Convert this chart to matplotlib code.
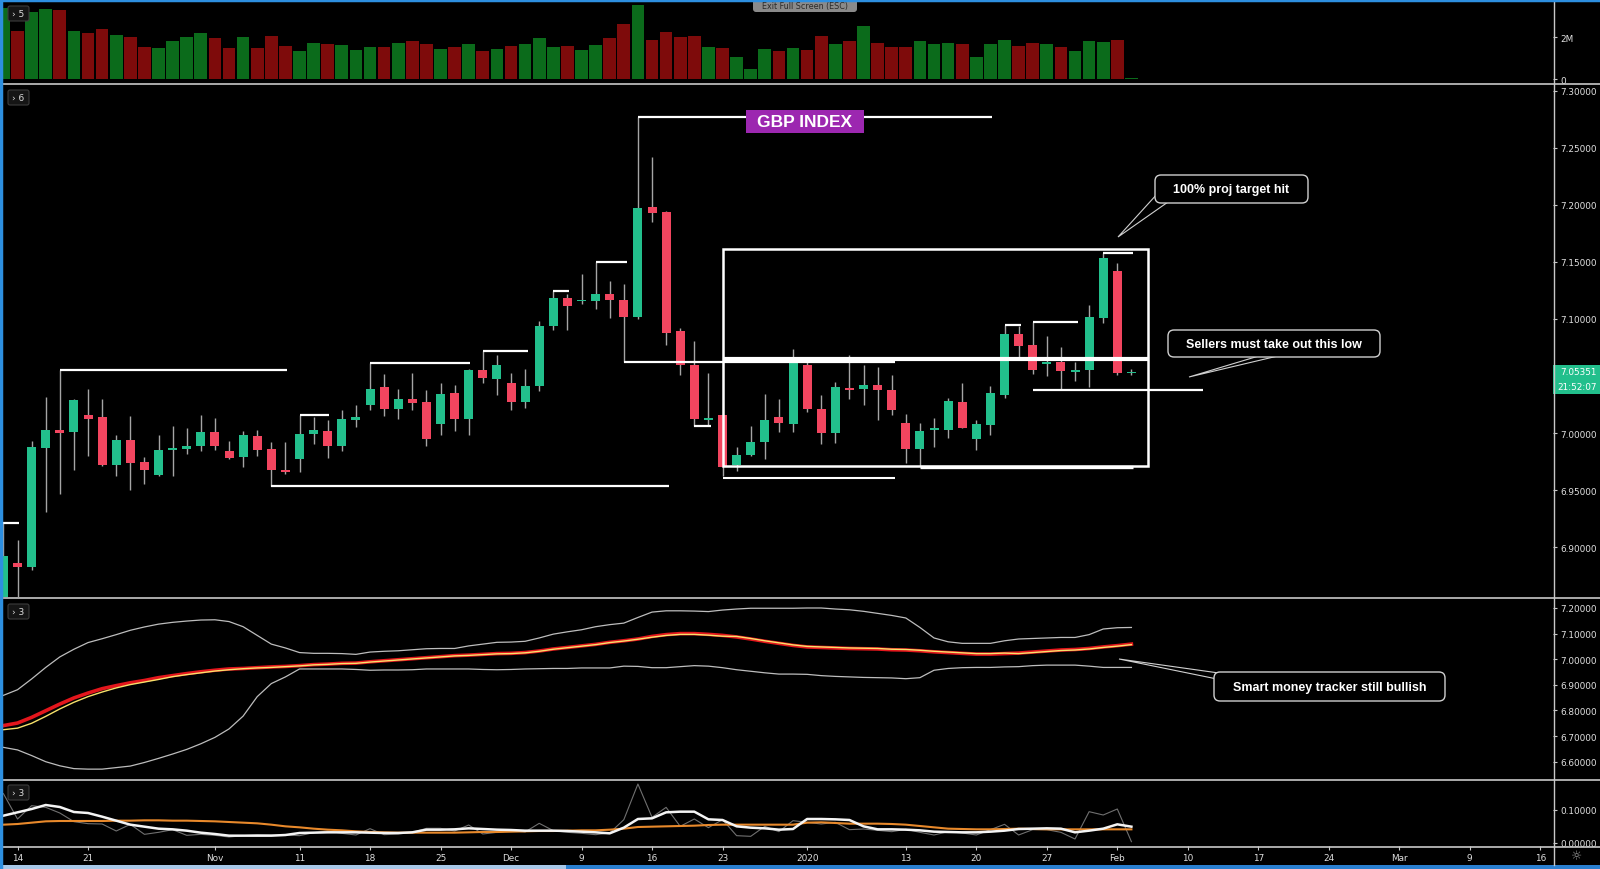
import matplotlib
matplotlib.use('Agg')
import matplotlib.pyplot as plt
from matplotlib.patches import FancyBboxPatch, Rectangle, Polygon
import numpy as np

# ---------------- data ----------------
bar_index = np.arange(-1, 80)   # trading-day index, 0 = Oct 14 2019

open_ = [6.840, 6.886, 6.883, 6.987, 7.003, 7.001, 7.016, 7.014, 6.972, 6.994,
         6.975, 6.963, 6.985, 6.986, 6.989, 7.001, 6.984, 6.979, 6.997, 6.986,
         6.968, 6.977, 6.999, 7.002, 6.989, 7.011, 7.025, 7.040, 7.021, 7.030,
         7.027, 7.008, 7.035, 7.012, 7.055, 7.047, 7.044, 7.027, 7.041, 7.094,
         7.118, 7.1155, 7.116, 7.122, 7.117, 7.102, 7.198, 7.194, 7.089, 7.060,
         7.011, 7.016, 6.972, 6.981, 6.992, 7.014, 7.008, 7.060, 7.021, 7.000,
         7.039, 7.0385, 7.042, 7.038, 7.009, 6.986, 7.003, 7.003, 7.027, 6.995,
         7.007, 7.033, 7.087, 7.077, 7.0605, 7.062, 7.0535, 7.055, 7.101, 7.142,
         7.0530]
high = [6.921, 6.906, 6.993, 7.032, 7.055, 7.030, 7.039, 7.030, 6.998, 7.015,
        6.979, 6.998, 7.006, 7.004, 7.016, 7.013, 6.993, 7.002, 7.003, 6.992,
        6.992, 7.016, 7.014, 7.011, 7.020, 7.025, 7.061, 7.052, 7.039, 7.053,
        7.038, 7.044, 7.042, 7.056, 7.072, 7.068, 7.053, 7.056, 7.098, 7.1245,
        7.122, 7.139, 7.150, 7.133, 7.131, 7.2767, 7.242, 7.195, 7.092, 7.081,
        7.053, 7.017, 6.988, 7.006, 7.034, 7.030, 7.074, 7.062, 7.033, 7.045,
        7.068, 7.060, 7.058, 7.051, 7.017, 7.009, 7.013, 7.031, 7.044, 7.011,
        7.041, 7.095, 7.094, 7.097, 7.085, 7.075, 7.062, 7.112, 7.158, 7.149,
        7.0565]
low = [6.835, 6.850, 6.880, 6.931, 6.947, 6.968, 6.980, 6.971, 6.962, 6.950,
       6.955, 6.962, 6.962, 6.982, 6.984, 6.985, 6.977, 6.970, 6.980, 6.954,
       6.964, 6.966, 6.990, 6.978, 6.984, 7.005, 7.020, 7.015, 7.012, 7.020,
       6.989, 6.998, 7.002, 6.998, 7.044, 7.033, 7.020, 7.022, 7.037, 7.090,
       7.090, 7.113, 7.109, 7.101, 7.062, 7.100, 7.185, 7.077, 7.051, 7.0066,
       7.006, 6.962, 6.967, 6.980, 6.977, 7.001, 7.001, 7.018, 6.990, 6.991,
       7.030, 7.025, 7.011, 7.016, 6.974, 6.971, 6.988, 6.996, 7.004, 6.985,
       6.998, 7.031, 7.067, 7.052, 7.050, 7.039, 7.046, 7.040, 7.096, 7.051,
       7.051]
close = [6.8925, 6.883, 6.988, 7.003, 7.000, 7.029, 7.012, 6.972, 6.994, 6.974,
         6.968, 6.985, 6.987, 6.989, 7.001, 6.989, 6.978, 6.998, 6.985, 6.968,
         6.966, 6.999, 7.003, 6.989, 7.012, 7.014, 7.039, 7.021, 7.030, 7.026,
         6.995, 7.034, 7.012, 7.055, 7.048, 7.060, 7.027, 7.041, 7.094, 7.118,
         7.111, 7.1165, 7.122, 7.117, 7.102, 7.197, 7.193, 7.088, 7.060, 7.012,
         7.013, 6.970, 6.981, 6.992, 7.011, 7.009, 7.062, 7.021, 7.000, 7.040,
         7.038, 7.042, 7.038, 7.020, 6.986, 7.002, 7.004, 7.028, 7.004, 7.008,
         7.035, 7.087, 7.076, 7.055, 7.062, 7.054, 7.0555, 7.102, 7.153, 7.053,
         7.05351]
volume_m = [3.39, 2.32, 3.23, 3.36, 3.31, 2.32, 2.21, 2.40, 2.11, 2.00,
            1.52, 1.47, 1.84, 2.00, 2.21, 1.95, 1.47, 2.00, 1.47, 2.08,
            1.60, 1.36, 1.73, 1.68, 1.63, 1.39, 1.55, 1.55, 1.73, 1.81,
            1.68, 1.44, 1.55, 1.68, 1.36, 1.44, 1.60, 1.68, 1.95, 1.52,
            1.60, 1.39, 1.63, 1.95, 2.64, 3.55, 1.89, 2.24, 2.00, 2.08,
            1.55, 1.47, 1.04, 0.48, 1.44, 1.33, 1.47, 1.41, 2.08, 1.68,
            1.84, 2.53, 1.73, 1.55, 1.55, 1.81, 1.68, 1.73, 1.68, 1.04,
            1.68, 1.87, 1.60, 1.73, 1.68, 1.55, 1.36, 1.84, 1.76, 1.87,
            0.03]

band_upper = [6.859, 6.881, 6.923, 6.968, 7.009, 7.039, 7.065, 7.080, 7.096, 7.113,
              7.126, 7.137, 7.144, 7.149, 7.153, 7.154, 7.147, 7.127, 7.093, 7.059,
              7.044, 7.026, 7.023, 7.023, 7.022, 7.019, 7.028, 7.031, 7.033, 7.037,
              7.041, 7.042, 7.042, 7.052, 7.059, 7.066, 7.067, 7.070, 7.083, 7.098,
              7.107, 7.115, 7.127, 7.135, 7.141, 7.163, 7.184, 7.189, 7.189, 7.188,
              7.186, 7.192, 7.196, 7.199, 7.199, 7.199, 7.199, 7.200, 7.200, 7.196,
              7.193, 7.187, 7.179, 7.171, 7.161, 7.124, 7.083, 7.068, 7.062, 7.062,
              7.062, 7.072, 7.079, 7.081, 7.083, 7.085, 7.085, 7.096, 7.118, 7.123,
              7.124]
band_lower = [6.656, 6.646, 6.624, 6.600, 6.584, 6.573, 6.571, 6.571, 6.577, 6.583,
              6.597, 6.613, 6.630, 6.648, 6.670, 6.695, 6.728, 6.778, 6.854, 6.905,
              6.931, 6.962, 6.962, 6.962, 6.962, 6.960, 6.957, 6.958, 6.958, 6.959,
              6.962, 6.962, 6.962, 6.962, 6.960, 6.959, 6.960, 6.962, 6.963, 6.964,
              6.964, 6.966, 6.966, 6.966, 6.973, 6.972, 6.967, 6.967, 6.971, 6.975,
              6.973, 6.967, 6.959, 6.953, 6.947, 6.942, 6.942, 6.941, 6.936, 6.933,
              6.931, 6.929, 6.928, 6.927, 6.924, 6.928, 6.957, 6.964, 6.967, 6.968,
              6.968, 6.970, 6.971, 6.975, 6.977, 6.977, 6.977, 6.973, 6.968, 6.968,
              6.968]
tracker_red = [6.741, 6.751, 6.773, 6.799, 6.825, 6.849, 6.868, 6.885, 6.897, 6.908,
               6.917, 6.928, 6.936, 6.944, 6.951, 6.957, 6.962, 6.964, 6.967, 6.970,
               6.972, 6.975, 6.979, 6.981, 6.984, 6.985, 6.990, 6.994, 6.998, 7.002,
               7.006, 7.010, 7.014, 7.016, 7.019, 7.022, 7.023, 7.026, 7.032, 7.040,
               7.046, 7.052, 7.058, 7.066, 7.072, 7.079, 7.089, 7.096, 7.100, 7.100,
               7.097, 7.093, 7.087, 7.079, 7.070, 7.062, 7.054, 7.048, 7.046, 7.044,
               7.042, 7.041, 7.040, 7.037, 7.036, 7.033, 7.029, 7.026, 7.023, 7.020,
               7.020, 7.022, 7.024, 7.028, 7.032, 7.036, 7.038, 7.042, 7.048, 7.053,
               7.059]
tracker_yellow = [6.725, 6.731, 6.750, 6.777, 6.806, 6.832, 6.854, 6.872, 6.888, 6.901,
                  6.911, 6.921, 6.932, 6.940, 6.947, 6.954, 6.959, 6.963, 6.966, 6.968,
                  6.971, 6.974, 6.978, 6.980, 6.983, 6.984, 6.989, 6.993, 6.997, 7.001,
                  7.005, 7.009, 7.013, 7.015, 7.018, 7.021, 7.022, 7.025, 7.031, 7.039,
                  7.045, 7.051, 7.057, 7.065, 7.071, 7.078, 7.086, 7.093, 7.097, 7.097,
                  7.094, 7.090, 7.089, 7.081, 7.072, 7.064, 7.056, 7.050, 7.048, 7.046,
                  7.044, 7.043, 7.042, 7.039, 7.038, 7.035, 7.031, 7.028, 7.025, 7.022,
                  7.022, 7.024, 7.022, 7.026, 7.030, 7.034, 7.036, 7.040, 7.046, 7.051,
                  7.057]
osc_raw = [0.148, 0.072, 0.112, 0.107, 0.090, 0.064, 0.058, 0.057, 0.036, 0.056,
           0.026, 0.032, 0.040, 0.023, 0.026, 0.023, 0.018, 0.022, 0.025, 0.024,
           0.024, 0.022, 0.031, 0.036, 0.029, 0.024, 0.043, 0.025, 0.027, 0.032,
           0.044, 0.044, 0.036, 0.054, 0.027, 0.032, 0.037, 0.033, 0.059, 0.037,
           0.032, 0.029, 0.025, 0.030, 0.070, 0.177, 0.077, 0.107, 0.050, 0.072,
           0.046, 0.070, 0.022, 0.020, 0.050, 0.034, 0.067, 0.062, 0.057, 0.062,
           0.040, 0.042, 0.038, 0.034, 0.041, 0.032, 0.024, 0.034, 0.030, 0.024,
           0.040, 0.056, 0.024, 0.040, 0.040, 0.032, 0.012, 0.094, 0.084, 0.102,
           0.004]
osc_white = [0.082, 0.092, 0.102, 0.114, 0.108, 0.093, 0.090, 0.079, 0.067, 0.055,
             0.049, 0.043, 0.041, 0.037, 0.031, 0.027, 0.022, 0.022, 0.022, 0.022,
             0.024, 0.030, 0.031, 0.032, 0.032, 0.032, 0.031, 0.030, 0.030, 0.032,
             0.040, 0.040, 0.041, 0.044, 0.042, 0.040, 0.039, 0.037, 0.037, 0.037,
             0.036, 0.034, 0.032, 0.029, 0.046, 0.072, 0.074, 0.092, 0.094, 0.094,
             0.071, 0.069, 0.050, 0.046, 0.044, 0.040, 0.042, 0.072, 0.072, 0.071,
             0.069, 0.050, 0.041, 0.041, 0.040, 0.038, 0.034, 0.033, 0.032, 0.032,
             0.034, 0.037, 0.042, 0.043, 0.044, 0.043, 0.032, 0.037, 0.043, 0.056,
             0.049]
osc_orange = [0.055, 0.057, 0.061, 0.065, 0.066, 0.066, 0.066, 0.066, 0.067, 0.067,
              0.068, 0.068, 0.067, 0.067, 0.066, 0.065, 0.063, 0.061, 0.059, 0.055,
              0.050, 0.047, 0.043, 0.040, 0.038, 0.035, 0.033, 0.032, 0.031, 0.031,
              0.031, 0.031, 0.031, 0.032, 0.033, 0.033, 0.034, 0.035, 0.036, 0.036,
              0.037, 0.038, 0.038, 0.040, 0.043, 0.048, 0.049, 0.050, 0.051, 0.052,
              0.054, 0.055, 0.055, 0.055, 0.055, 0.055, 0.055, 0.061, 0.062, 0.060,
              0.058, 0.058, 0.058, 0.057, 0.055, 0.051, 0.047, 0.043, 0.042, 0.041,
              0.041, 0.042, 0.043, 0.042, 0.041, 0.041, 0.041, 0.041, 0.041, 0.041,
              0.041]

# horizontal marker lines drawn on the price pane: start index, end index, price
level_start = [-1, 3, 18, 20, 25, 33, 38, 41, 43, 44, 48, 50, 64, 70, 72, 72, 77]
level_end = [0.1, 19.1, 46.2, 22.1, 32.1, 36.2, 39.1, 43.2, 62.2, 69.1, 49.2, 62.2, 79.1, 71.2, 75.2, 84.1, 79.1]
level_price = [6.921, 7.055, 6.954, 7.016, 7.061, 7.072, 7.1245, 7.150, 7.062, 7.2767,
               7.0066, 6.961, 6.970, 7.0947, 7.097, 7.038, 7.158]
range_box = dict(i0=50.0, i1=80.15, lo=6.971, hi=7.161, mid=7.0645)

tick_index = [0, 5, 14, 20, 25, 30, 35, 40, 45, 50, 56, 63, 68, 73, 78, 83, 88, 93, 98, 103, 108]
tick_label = ['14', '21', 'Nov', '11', '18', '25', 'Dec', '9', '16', '23', '2020',
              '13', '20', '27', 'Feb', '10', '17', '24', 'Mar', '9', '16']
price_ticks = [6.90, 6.95, 7.00, 7.10, 7.15, 7.20, 7.25, 7.30]
tracker_ticks = [6.6, 6.7, 6.8, 6.9, 7.0, 7.1, 7.2]
osc_ticks = [0.0, 0.1]
last_price = 7.05351

# ---------------- style ----------------
W, H = 1600, 870
GREEN = '#22bf8c'
RED = '#f2455f'
VGREEN = '#0b6b1b'
VRED = '#7e0b0b'
AXC = '#c8c8c8'
LBL = '#e0e0e0'
XLIM = (-1.03, 108.9)

fig = plt.figure(figsize=(W / 100, H / 100), dpi=100, facecolor='black')


def add_ax(x0, y0, x1, y1, **kw):
    ax = fig.add_axes([x0 / W, 1 - y1 / H, (x1 - x0) / W, (y1 - y0) / H], **kw)
    ax.set_facecolor('black')
    for s in ax.spines.values():
        s.set_visible(False)
    ax.set_xlim(*XLIM)
    ax.yaxis.tick_right()
    ax.tick_params(axis='y', length=3, width=0.8, color=AXC, labelcolor=LBL,
                   labelsize=6.4, pad=2.5)
    ax.tick_params(axis='x', bottom=False, labelbottom=False)
    return ax


idx = np.asarray(bar_index, dtype=float)
o = np.asarray(open_); c = np.asarray(close)
h = np.asarray(high); l = np.asarray(low)
up = c >= o

# ---- volume pane ----
axv = add_ax(3, 3, 1553, 84)
axv.bar(idx, volume_m, width=0.9, color=np.where(up, VGREEN, VRED), linewidth=0)
axv.set_ylim(-0.19, 3.69)
axv.set_yticks([0, 2])
axv.set_yticklabels(['0', '2M'])

# ---- price pane ----
axp = add_ax(3, 85, 1553, 598)
axp.set_ylim(6.8563, 7.3059)
axp.vlines(idx, l, h, color='#a5a5a5', lw=1.0, zorder=2)
body = np.maximum(np.abs(c - o), 0.0013)
mid = (o + c) / 2
axp.bar(idx, body, bottom=mid - body / 2, width=0.64,
        color=np.where(up, GREEN, RED), linewidth=0, zorder=3)
axp.set_yticks(price_ticks)
axp.set_yticklabels([f'{v:.5f}' for v in price_ticks])

thick = {11: 1.5, 12: 2.4}
for k, (a, b, p) in enumerate(zip(level_start, level_end, level_price)):
    axp.plot([a, b], [p, p], color='white', lw=thick.get(k, 1.6),
             solid_capstyle='butt', zorder=5)
axp.add_patch(Rectangle((range_box['i0'], range_box['lo']),
                        range_box['i1'] - range_box['i0'],
                        range_box['hi'] - range_box['lo'],
                        fill=False, ec='white', lw=1.8, zorder=5))
axp.plot([range_box['i0'], range_box['i1']], [range_box['mid']] * 2,
         color='white', lw=3.0, solid_capstyle='butt', zorder=5)

# ---- tracker pane ----
axt = add_ax(3, 599, 1553, 780)
axt.set_ylim(6.5325, 7.239)
axt.plot(idx, band_upper, color='#bdbdbd', lw=0.9)
axt.plot(idx, band_lower, color='#bdbdbd', lw=0.9)
axt.plot(idx, tracker_red, color='#e3161c', lw=2.6)
axt.plot(idx, tracker_yellow, color='#f7e26b', lw=1.0)
axt.set_yticks(tracker_ticks)
axt.set_yticklabels([f'{v:.5f}' for v in tracker_ticks])

# ---- oscillator pane ----
axo = add_ax(3, 781, 1553, 847)
axo.set_ylim(-0.009, 0.189)
axo.plot(idx, osc_raw, color='#707070', lw=0.8)
axo.plot(idx, osc_orange, color='#e8892b', lw=1.5)
axo.plot(idx, osc_white, color='#f4f4f4', lw=1.8)
axo.set_yticks(osc_ticks)
axo.set_yticklabels([f'{v:.5f}' for v in osc_ticks])
axo.set_xticks(tick_index)
axo.set_xticklabels(tick_label)
axo.tick_params(axis='x', bottom=True, labelbottom=True, length=3, width=0.8,
                color=AXC, labelcolor=LBL, labelsize=6.4, pad=2)

# ---------------- overlay (frame, separators, callouts) ----------------
ov = fig.add_axes([0, 0, 1, 1], zorder=20)
ov.set_xlim(0, W); ov.set_ylim(H, 0)
ov.axis('off'); ov.patch.set_alpha(0)

for ysep in (84.5, 598.5, 780.5, 847.5):
    ov.plot([0, W], [ysep, ysep], color=AXC, lw=1.2)
ov.plot([1553.5, 1553.5], [3, 866], color=AXC, lw=1.0)

# window frame
ov.plot([0, W], [1, 1], color='#2d8fe0', lw=2.5)
ov.plot([1, 1], [0, H], color='#2d8fe0', lw=2.5)
ov.add_patch(Rectangle((0, 866), W, 4, fc='#2a7fd0', ec='none'))
ov.add_patch(Rectangle((0, 866), 566, 4, fc='#a8c8e8', ec='none'))

# pane labels
for (yy, lab) in ((7, '› 5'), (91, '› 6'), (605, '› 3'), (786, '› 3')):
    ov.add_patch(FancyBboxPatch((8, yy), 21, 15, boxstyle='round,pad=0,rounding_size=2',
                                fc='#151515', ec='#3c3c3c', lw=0.8))
    ov.text(18.5, yy + 7.5, lab, color='#dddddd', fontsize=6.5, ha='center', va='center')

# exit full screen tooltip
ov.add_patch(FancyBboxPatch((753, -3), 104, 16, boxstyle='round,pad=0,rounding_size=3',
                            fc='#8a8a8a', ec='none'))
ov.text(805, 6.5, 'Exit Full Screen (ESC)', color='#2a2a2a', fontsize=5.8,
        ha='center', va='center')

# GBP INDEX title
ov.add_patch(Rectangle((746, 111), 118, 23, fc='#9c27b0', ec='none'))
ov.text(805, 122.5, 'GBP INDEX', color='white', fontsize=12.5, fontweight='bold',
        family=['Liberation Sans', 'DejaVu Sans'], ha='center', va='center')

# last price labels
ov.add_patch(Rectangle((1553, 366), 47, 14, fc=GREEN, ec='none'))
ov.add_patch(Rectangle((1553, 380), 47, 15, fc=GREEN, ec='none'))
ov.text(1560, 373, f'{last_price:.5f}', color='white', fontsize=6.4, ha='left', va='center')
ov.text(1557, 387.5, '21:52:07', color='white', fontsize=6.4, ha='left', va='center')

# settings icon
ov.text(1577, 857, '☼', color='#a0a0a0', fontsize=9, ha='center', va='center')


def callout(x0, y0, x1, y1, text, base1, base2, tip):
    ov.add_patch(Polygon([base1, tip, base2], closed=True, fc='black',
                         ec='#d0d0d0', lw=0.8, zorder=1))
    ov.add_patch(FancyBboxPatch((x0, y0), x1 - x0, y1 - y0,
                                boxstyle='round,pad=0,rounding_size=6',
                                fc='black', ec='#d0d0d0', lw=1.0, zorder=2))
    ov.text((x0 + x1) / 2, (y0 + y1) / 2 + 0.5, text, color='white', fontsize=9,
            fontweight='bold', family=['Liberation Sans', 'DejaVu Sans'],
            ha='center', va='center', zorder=3)


callout(1155, 176, 1308, 204, '100% proj target hit',
        (1158, 194), (1168, 203), (1118, 238))
callout(1168, 331, 1380, 358, 'Sellers must take out this low',
        (1262, 356), (1282, 356), (1189, 378))
callout(1214, 673, 1445, 702, 'Smart money tracker still bullish',
        (1217, 680), (1226, 675), (1119, 660))

fig.savefig('out.png', dpi=100, facecolor='black')
